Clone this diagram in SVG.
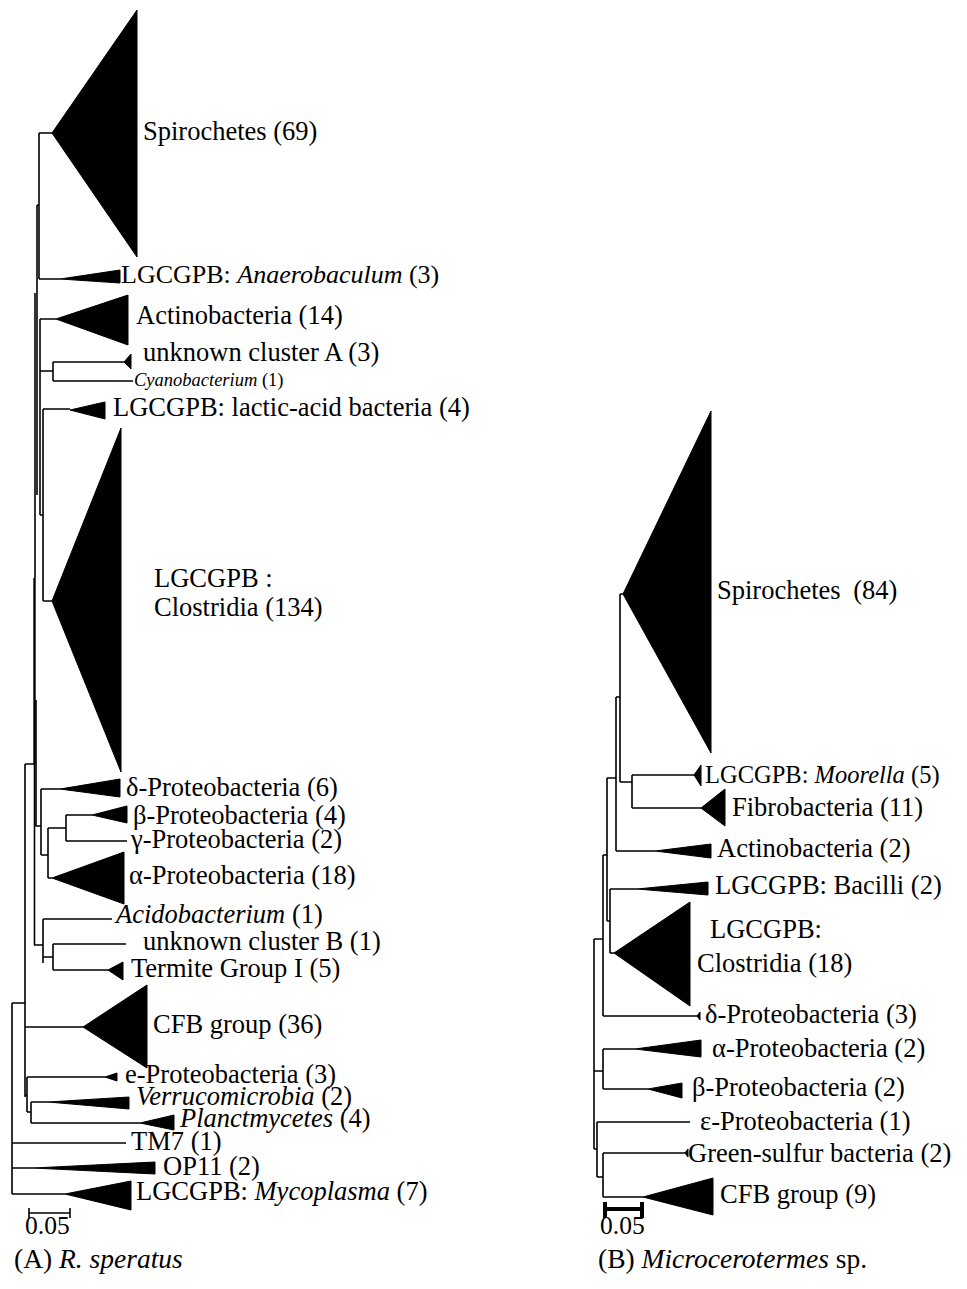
<svg xmlns="http://www.w3.org/2000/svg" width="967" height="1289" viewBox="0 0 967 1289">
<style>
text{font-family:"Liberation Serif","Times New Roman",serif;font-size:26.5px;fill:#000}
.i{font-style:italic}
.sm{font-size:18.5px}
.cap{font-size:27.5px}
.sc{font-size:25.5px}
.br{fill:none;stroke:#000;stroke-width:1.6}
.bk{fill:none;stroke:#000;stroke-width:4}
polygon{fill:#000;stroke:#000;stroke-width:1}
</style>
<rect width="967" height="1289" fill="#fff"/>
<g id="connectors-A" class="br">
<path d="M39,133V279M39,133H52M39,279H60"/>
<path d="M37,205H39M37,205V495"/>
<path d="M40,319H56M40,319V515"/>
<path d="M40,371H53M53,362V381M53,362H124M53,381H133"/>
<path d="M43,409V601M43,409H70M43,601H52M40,515H43"/>
<path d="M35,293V578"/>
<path d="M34.5,578V764" style="stroke-width:2.4"/>
<path d="M34.5,764V945"/>
<path d="M36,700V826H41M41,789V855M41,789H60M41,855H48"/>
<path d="M48,828V878M48,828H66M48,878H52"/>
<path d="M66,815V841M66,815H92M66,841H127"/>
<path d="M34,945H43M43,919V963M43,919H112M43,957H53M53,944V970M53,944H126M53,970H108"/>
<path d="M25,764H34M25,764V1097M12,1003H25M12,1003V1194"/>
<path d="M25,1027H83M25,1095H27M27,1077V1112M27,1077H105M27,1112H31M31,1102V1123M31,1102H48M31,1123H140"/>
<path d="M12,1143H126M12,1168H33M12,1194H65"/>
</g>
<g id="connectors-B" class="br">
<path d="M620,594V782M620,594H623M620,782H632"/>
<path d="M632,775V808M632,775H694M632,808H701"/>
<path d="M616,697V851M616,697H620M616,851H655"/>
<path d="M607,778V921M607,778H616"/>
<path d="M610,889V953M607,921H610M610,889H637M610,953H614"/>
<path d="M603,855V1016M603,855H607M603,1016H697"/>
<path d="M594,939V1149M594,939H603"/>
<path d="M603,1049V1089M594,1071H603M603,1049H635M603,1089H648"/>
<path d="M597,1122V1177M594,1149H597M597,1122H690"/>
<path d="M603,1153V1197M597,1177H603M603,1153H685M603,1197H643"/>
</g>
<g id="A-spirochetes"><polygon points="52,133 137,10 137,257"/><text x="143" y="140">Spirochetes (69)</text></g>
<g id="A-anaerobaculum"><polygon points="60,279 120,270 120,283"/><text x="121" y="283" style="font-size:26px">LGCGPB: <tspan class="i">Anaerobaculum</tspan> (3)</text></g>
<g id="A-actinobacteria"><polygon points="56,319 128,295 128,345"/><text x="136" y="324">Actinobacteria (14)</text></g>
<g id="A-unknownA"><polygon points="124,362 131,354 131,369"/><text x="143" y="361">unknown cluster A (3)</text></g>
<g id="A-cyanobacterium"><text x="134" y="386" class="sm"><tspan class="i">Cyanobacterium</tspan> (1)</text></g>
<g id="A-lactic"><polygon points="70,410 105,402 105,419"/><text x="113" y="416">LGCGPB: lactic-acid bacteria (4)</text></g>
<g id="A-clostridia"><polygon points="52,601 121,428 121,772"/><text x="154" y="587">LGCGPB :</text><text x="154" y="616">Clostridia (134)</text></g>
<g id="A-delta"><polygon points="60,789 120,779 120,797"/><text x="126" y="796">δ-Proteobacteria (6)</text></g>
<g id="A-beta"><polygon points="92,815 127,806 127,823"/><text x="133" y="824">β-Proteobacteria (4)</text></g>
<g id="A-gamma"><text x="131" y="848">γ-Proteobacteria (2)</text></g>
<g id="A-alpha"><polygon points="52,878 124,852 124,904"/><text x="129" y="884">α-Proteobacteria (18)</text></g>
<g id="A-acidobacterium"><text x="116" y="923"><tspan class="i">Acidobacterium</tspan> (1)</text></g>
<g id="A-unknownB"><text x="143" y="950">unknown cluster B (1)</text></g>
<g id="A-termite"><polygon points="108,970 123,962 123,980"/><text x="131" y="977">Termite Group I (5)</text></g>
<g id="A-cfb"><polygon points="83,1027 147,985 147,1068"/><text x="153" y="1033">CFB group (36)</text></g>
<g id="A-epsilon"><polygon points="105,1077 117,1073 117,1081"/><text x="125" y="1083">e-Proteobacteria (3)</text></g>
<g id="A-verruco"><polygon points="48,1102 129,1097 129,1109"/><text x="136" y="1105"><tspan class="i">Verrucomicrobia</tspan> (2)</text></g>
<g id="A-planct"><polygon points="140,1123 174,1115 174,1130"/><text x="180" y="1127"><tspan class="i">Planctmycetes</tspan> (4)</text></g>
<g id="A-tm7"><text x="131" y="1150">TM7 (1)</text></g>
<g id="A-op11"><polygon points="33,1168 155,1162 155,1174"/><text x="163" y="1175">OP11 (2)</text></g>
<g id="A-mycoplasma"><polygon points="65,1194 131,1181 131,1210"/><text x="136" y="1200">LGCGPB: <tspan class="i">Mycoplasma</tspan> (7)</text></g>
<g id="A-scale"><path class="br" d="M29,1213H70M29,1208V1218M70,1208V1218"/><text x="25" y="1234" class="sc">0.05</text></g>
<g id="A-caption"><text x="14" y="1268" class="cap">(A) <tspan class="i">R. speratus</tspan></text></g>

<g id="B-spirochetes"><polygon points="623,594 711,411 711,753"/><text x="717" y="599">Spirochetes <tspan dx="6">(84)</tspan></text></g>
<g id="B-moorella"><polygon points="694,775 701,765 701,786"/><text x="705" y="783" style="font-size:24.5px">LGCGPB: <tspan class="i">Moorella</tspan> (5)</text></g>
<g id="B-fibrobacteria"><polygon points="701,808 725,789 725,826"/><text x="732" y="816">Fibrobacteria (11)</text></g>
<g id="B-actinobacteria"><polygon points="655,851 711,844 711,858"/><text x="717" y="857">Actinobacteria (2)</text></g>
<g id="B-bacilli"><polygon points="637,889 708,882 708,895"/><text x="715" y="894">LGCGPB: Bacilli (2)</text></g>
<g id="B-clostridia"><polygon points="614,953 690,902 690,1006"/><text x="710" y="938">LGCGPB:</text><text x="697" y="972">Clostridia (18)</text></g>
<g id="B-delta"><polygon points="697,1016 700,1012 700,1020"/><text x="705" y="1023">δ-Proteobacteria (3)</text></g>
<g id="B-alpha"><polygon points="635,1049 701,1040 701,1057"/><text x="712" y="1057">α-Proteobacteria (2)</text></g>
<g id="B-beta"><polygon points="648,1089 682,1083 682,1098"/><text x="692" y="1096">β-Proteobacteria (2)</text></g>
<g id="B-epsilon"><text x="700" y="1130">ε-Proteobacteria (1)</text></g>
<g id="B-green"><polygon points="685,1153 688,1149 688,1157"/><text x="688" y="1162">Green-sulfur bacteria (2)</text></g>
<g id="B-cfb"><polygon points="643,1197 713,1178 713,1215"/><text x="720" y="1203">CFB group (9)</text></g>
<g id="B-scale"><path class="bk" d="M605,1209H642M605,1202V1218M642,1202V1218"/><text x="600" y="1234" class="sc">0.05</text></g>
<g id="B-caption"><text x="598" y="1268" class="cap">(B) <tspan class="i">Microcerotermes</tspan> sp.</text></g>
</svg>
